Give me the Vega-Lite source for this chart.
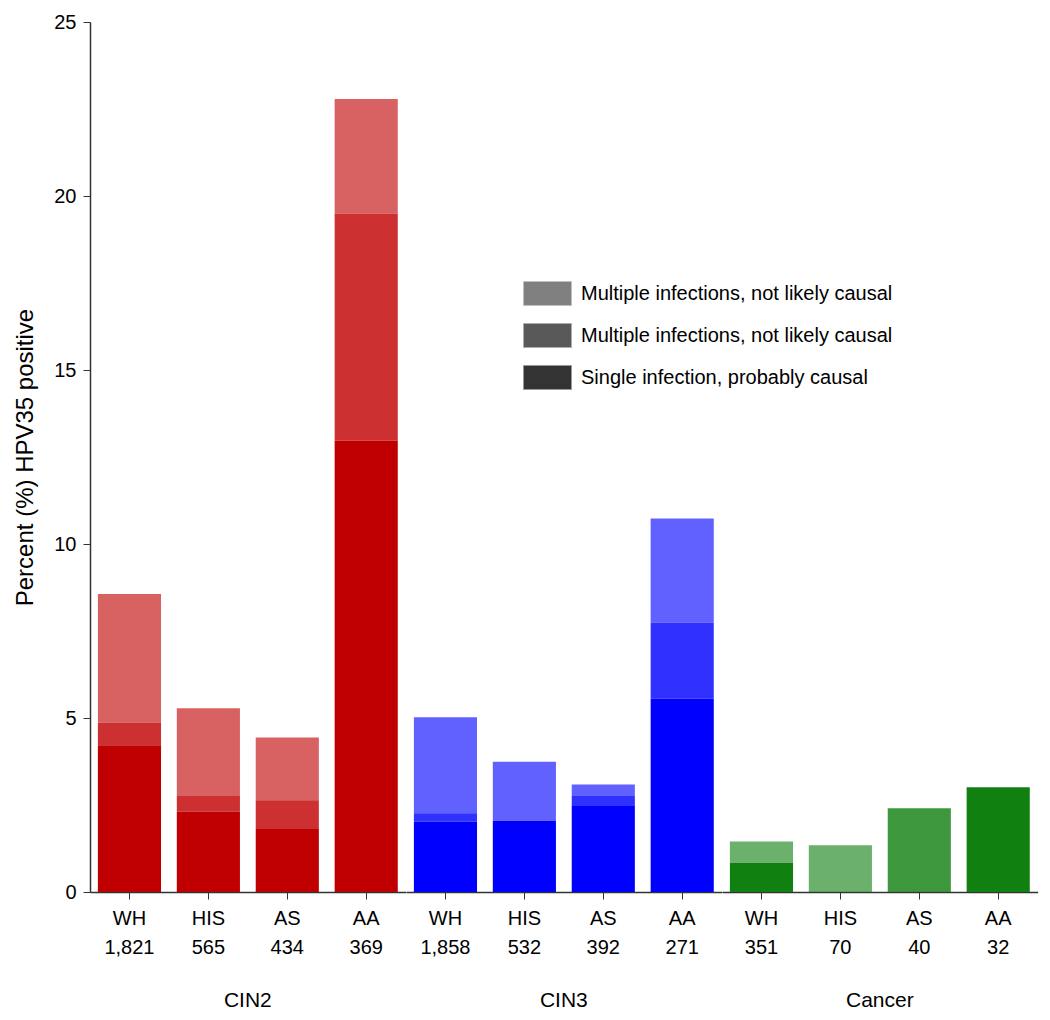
{
  "$schema": "https://vega.github.io/schema/vega-lite/v6.json",
  "padding": {"left": 13, "top": 12, "right": 5, "bottom": 5},
  "config": {
    "font": "Liberation Sans",
    "view": {"stroke": null},
    "axis": {"labelFont": "Liberation Sans", "titleFont": "Liberation Sans", "labelColor": "#000", "titleColor": "#000", "domainColor": "#333", "tickColor": "#333", "grid": false, "titleFontWeight": "normal"},
    "legend": {"symbolBaseFillColor": "#333333"}
  },
  "data": {"values": [
    {"group": "CIN2", "bar": "WH|1,821", "type": "single", "value": 4.22},
    {"group": "CIN2", "bar": "WH|1,821", "type": "multiple x-hatch", "value": 0.64},
    {"group": "CIN2", "bar": "WH|1,821", "type": "multiple hatch", "value": 3.70},
    {"group": "CIN2", "bar": "HIS|565", "type": "single", "value": 2.31},
    {"group": "CIN2", "bar": "HIS|565", "type": "multiple x-hatch", "value": 0.45},
    {"group": "CIN2", "bar": "HIS|565", "type": "multiple hatch", "value": 2.52},
    {"group": "CIN2", "bar": "AS|434", "type": "single", "value": 1.81},
    {"group": "CIN2", "bar": "AS|434", "type": "multiple x-hatch", "value": 0.83},
    {"group": "CIN2", "bar": "AS|434", "type": "multiple hatch", "value": 1.80},
    {"group": "CIN2", "bar": "AA|369", "type": "single", "value": 12.97},
    {"group": "CIN2", "bar": "AA|369", "type": "multiple x-hatch", "value": 6.52},
    {"group": "CIN2", "bar": "AA|369", "type": "multiple hatch", "value": 3.30},
    {"group": "CIN3", "bar": "WH|1,858", "type": "single", "value": 2.02},
    {"group": "CIN3", "bar": "WH|1,858", "type": "multiple x-hatch", "value": 0.24},
    {"group": "CIN3", "bar": "WH|1,858", "type": "multiple hatch", "value": 2.76},
    {"group": "CIN3", "bar": "HIS|532", "type": "single", "value": 2.05},
    {"group": "CIN3", "bar": "HIS|532", "type": "multiple hatch", "value": 1.69},
    {"group": "CIN3", "bar": "AS|392", "type": "single", "value": 2.47},
    {"group": "CIN3", "bar": "AS|392", "type": "multiple x-hatch", "value": 0.29},
    {"group": "CIN3", "bar": "AS|392", "type": "multiple hatch", "value": 0.33},
    {"group": "CIN3", "bar": "AA|271", "type": "single", "value": 5.55},
    {"group": "CIN3", "bar": "AA|271", "type": "multiple x-hatch", "value": 2.19},
    {"group": "CIN3", "bar": "AA|271", "type": "multiple hatch", "value": 2.99},
    {"group": "Cancer", "bar": "WH|351", "type": "single", "value": 0.84},
    {"group": "Cancer", "bar": "WH|351", "type": "multiple hatch", "value": 0.61},
    {"group": "Cancer", "bar": "HIS|70", "type": "multiple hatch", "value": 1.34},
    {"group": "Cancer", "bar": "AS|40", "type": "multiple x-hatch", "value": 2.41},
    {"group": "Cancer", "bar": "AA|32", "type": "single", "value": 3.01}
  ]},
  "facet": {
    "column": {
      "field": "group", "type": "nominal", "sort": ["CIN2", "CIN3", "Cancer"], "title": null,
      "header": {"labelOrient": "bottom", "labelFontSize": 21, "labelPadding": 33, "labelFont": "Liberation Sans", "labelColor": "#000"}
    }
  },
  "spacing": 0,
  "resolve": {"scale": {"x": "independent"}},
  "spec": {
    "width": 315.67,
    "height": 870,
    "mark": {"type": "bar"},
    "encoding": {
      "x": {
        "field": "bar", "type": "nominal", "sort": null,
        "scale": {"paddingInner": 0.2, "paddingOuter": 0.1},
        "axis": {"title": null, "labelAngle": 0, "labelExpr": "split(datum.value, '|')", "labelFontSize": 20, "labelLineHeight": 29, "tickSize": 7, "labelPadding": 9, "domainWidth": 1.5}
      },
      "y": {
        "field": "value", "type": "quantitative", "stack": "zero",
        "scale": {"domain": [0, 25], "nice": false},
        "axis": {"title": "Percent (%) HPV35 positive", "values": [0, 5, 10, 15, 20, 25], "labelFontSize": 20, "titleFontSize": 24, "tickSize": 7, "labelPadding": 7, "titlePadding": 16, "domainWidth": 1.5}
      },
      "color": {
        "field": "group", "type": "nominal",
        "scale": {"domain": ["CIN2", "CIN3", "Cancer"], "range": ["#C00000", "#0000FF", "#108010"]},
        "legend": null
      },
      "opacity": {
        "field": "type", "type": "nominal",
        "scale": {"domain": ["multiple hatch", "multiple x-hatch", "single"], "range": [0.62, 1]},
        "legend": {
          "title": null, "orient": "none", "legendX": 433, "legendY": 247,
          "labelExpr": "datum.label == 'single' ? 'Single infection, probably causal' : 'Multiple infections, not likely causal'",
          "labelLimit": 0,
          "symbolType": "M-1,-0.5H1V0.5H-1Z", "symbolSize": 2304,
          "symbolFillColor": "#333333", "symbolStrokeColor": "#999999", "symbolStrokeWidth": 1,
          "labelFontSize": 20, "labelFont": "Liberation Sans", "labelColor": "#000",
          "rowPadding": 3, "labelOffset": 9
        }
      },
      "order": {"field": "type", "sort": "descending"}
    }
  }
}
